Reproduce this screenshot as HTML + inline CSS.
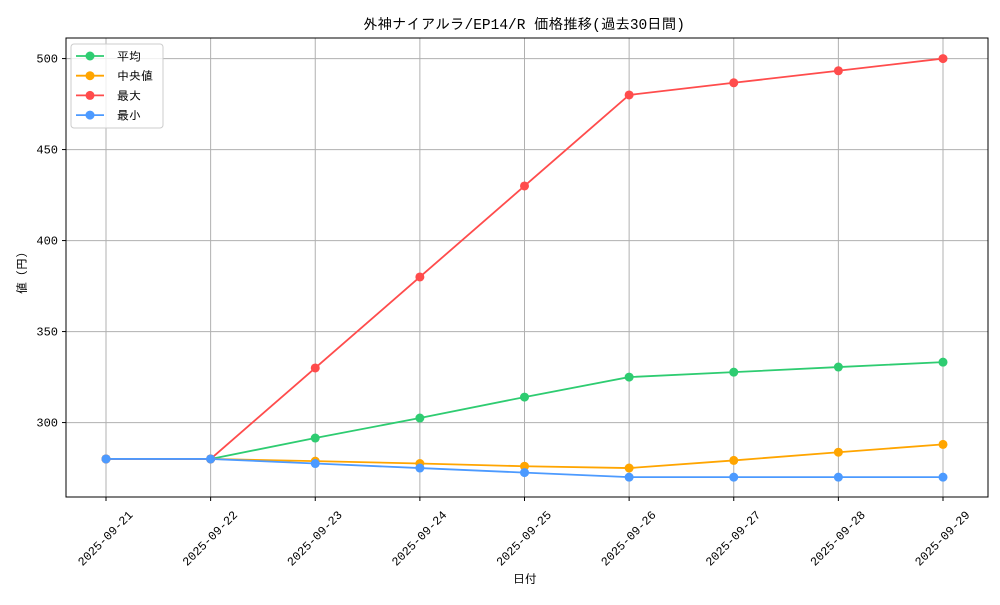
<!DOCTYPE html>
<html><head><meta charset="utf-8"><style>
body{margin:0;background:#fff}
svg text{font-family:"Liberation Mono","IPAGothic","Noto Sans CJK JP",monospace;fill:#000}
</style></head><body>
<svg id="chart" width="1000" height="600" xmlns="http://www.w3.org/2000/svg">
<rect width="1000" height="600" fill="#fff"/>
<g id="grid"></g>
<g id="series"></g>
<rect x="66" y="38" width="922" height="459" fill="none" stroke="#000" stroke-width="1"/>
<g id="ticks"></g>
<text x="524" y="29" text-anchor="middle" font-size="14.5">外神ナイアルラ/EP14/R 価格推移(過去30日間)</text>
<text x="525" y="583" text-anchor="middle" font-size="12">日付</text>
<text transform="translate(26,270) rotate(-90)" text-anchor="middle" font-size="12">値（円）</text>
<g id="legend">
<rect x="71" y="44" width="92" height="84" rx="3" fill="#fff" fill-opacity="0.8" stroke="#ccc"/>
</g>
</svg>
<script>
const categories=["2025-09-21","2025-09-22","2025-09-23","2025-09-24","2025-09-25","2025-09-26","2025-09-27","2025-09-28","2025-09-29"];
const avgValues=[280,280,291.5,302.5,314,325,327.7,330.5,333.2];
const medianValues=[280,280,278.8,277.5,276,275,279.2,283.7,288];
const maxValues=[280,280,330,380,430,480,486.7,493.3,500];
const minValues=[280,280,277.5,275,272.5,270,270,270,270];
const yTicks=[300,350,400,450,500];
const seriesNames=["平均","中央値","最大","最小"];
const NS="http://www.w3.org/2000/svg";
const L=66,R=988,T=38,B=497,ymin=259.1,ymax=511.3;
const x=i=>106+i*(943-106)/(categories.length-1);
const y=v=>B-(v-ymin)/(ymax-ymin)*(B-T);
function mk(tag,attrs,parent){const e=document.createElementNS(NS,tag);for(const k in attrs)e.setAttribute(k,attrs[k]);parent.appendChild(e);return e;}
const grid=document.getElementById('grid'),ticks=document.getElementById('ticks'),ser=document.getElementById('series'),leg=document.getElementById('legend');
categories.forEach((c,i)=>{
  const g=mk('line',{x1:x(i),x2:x(i),y1:T,y2:B,stroke:'#b0b0b0','stroke-width':1},grid);
  
  
  mk('line',{x1:x(i),x2:x(i),y1:B,y2:B+4,stroke:'#000'},ticks);
  const t=mk('text',{transform:`translate(${x(i)+2},${B+44}) rotate(-45)`,'text-anchor':'middle','font-size':12},ticks);
  t.textContent=c;
  
  
});
yTicks.forEach(v=>{
  const g=mk('line',{x1:L,x2:R,y1:y(v),y2:y(v),stroke:'#b0b0b0','stroke-width':1},grid);
  
  
  mk('line',{x1:L-4,x2:L,y1:y(v),y2:y(v),stroke:'#000'},ticks);
  const t=mk('text',{x:L-8,y:y(v)+4,'text-anchor':'end','font-size':12},ticks);
  t.textContent=v;
  
  
});
const series=[[avgValues,'#2ecc71','avg'],[medianValues,'#ffa500','median'],[maxValues,'#ff4c4c','max'],[minValues,'#4c9aff','min']];
series.forEach(([vals,col,nm],si)=>{
  const p=mk('polyline',{points:vals.map((v,i)=>x(i)+','+y(v)).join(' '),fill:'none',stroke:col,'stroke-width':1.8},ser);
  
  
  vals.forEach((v,i)=>{
    const c=mk('circle',{cx:x(i),cy:y(v),r:4.5,fill:col},ser);
    
    
  });
  const ly=56+si*19.7;
  const ll=mk('line',{x1:76,x2:104,y1:ly,y2:ly,stroke:col,'stroke-width':1.8},leg);
  
  
  mk('circle',{cx:90,cy:ly,r:4.5,fill:col},leg);
  const lt=mk('text',{x:117,y:ly+4.5,'font-size':12},leg);
  lt.textContent=seriesNames[si];
  
  
});
</script>
</body></html>
